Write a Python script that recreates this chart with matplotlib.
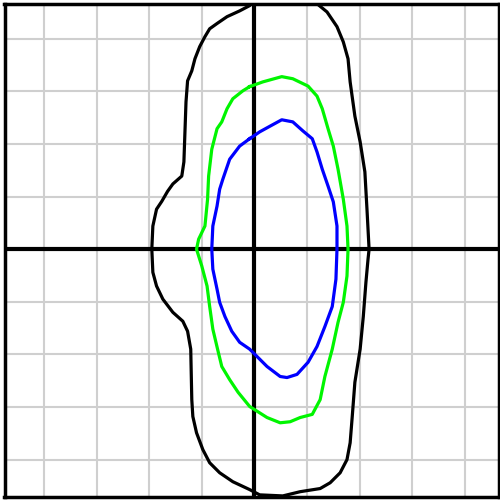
import numpy as np
import matplotlib
matplotlib.use('Agg')
import matplotlib.pyplot as plt

# contour levels (grid units), traced counter-clockwise from the top
outer_x = [-0.05, -0.09, -0.28, -0.52, -0.71, -0.85, -0.94, -1.04, -1.13, -1.19, -1.27,
           -1.30, -1.32, -1.34, -1.38, -1.55, -1.65, -1.76, -1.86, -1.93, -1.95,
           -1.93, -1.86, -1.74, -1.55, -1.36, -1.27, -1.21, -1.19, -1.17, -1.10,
           -0.98, -0.85, -0.66, -0.41, -0.09, 0.10, 0.54, 0.87, 1.25, 1.44, 1.63,
           1.76, 1.82, 1.86, 1.91, 2.01, 2.07, 2.12, 2.16, 2.18, 2.14, 2.10, 2.01,
           1.91, 1.82, 1.78, 1.69, 1.57, 1.38, 1.21, 1.15, -0.05]
outer_y = [4.80, 4.63, 4.53, 4.42, 4.29, 4.19, 4.04, 3.85, 3.62, 3.39, 3.20,
           2.80, 2.23, 1.66, 1.39, 1.24, 1.10, 0.91, 0.76, 0.44, 0.00,
           -0.44, -0.70, -0.95, -1.20, -1.37, -1.56, -1.90, -2.86, -3.18, -3.49,
           -3.81, -4.06, -4.25, -4.42, -4.57, -4.67, -4.69, -4.61, -4.55, -4.44, -4.25,
           -4.00, -3.68, -3.18, -2.53, -1.90, -1.28, -0.63, -0.19, 0.00, 0.76, 1.47, 2.04,
           2.53, 3.18, 3.62, 3.94, 4.23, 4.51, 4.65, 4.80, 4.80]

mid_x = [-0.09, -0.22, -0.41, -0.52, -0.62, -0.71, -0.81, -0.87, -0.89, -0.94, -1.06,
         -1.10, -1.00, -0.90, -0.85, -0.79, -0.70, -0.62, -0.47, -0.31, -0.09, 0.24,
         0.49, 0.68, 0.87, 1.10, 1.25, 1.34, 1.48, 1.59, 1.69, 1.76, 1.78, 1.76,
         1.69, 1.59, 1.50, 1.40, 1.29, 1.19, 1.02, 0.73, 0.52, 0.16, -0.09]
mid_y = [3.09, 3.01, 2.86, 2.67, 2.42, 2.29, 1.90, 1.39, 0.95, 0.44, 0.19,
         0.00, -0.32, -0.70, -1.09, -1.52, -1.90, -2.23, -2.48, -2.72, -2.99, -3.20,
         -3.30, -3.28, -3.20, -3.14, -2.86, -2.42, -1.90, -1.39, -1.01, -0.51, 0.00, 0.44,
         0.95, 1.52, 1.96, 2.29, 2.67, 2.91, 3.10, 3.24, 3.28, 3.18, 3.09]

inner_x = [-0.09, -0.28, -0.47, -0.60, -0.66, -0.71, -0.79, -0.81, -0.79, -0.71, -0.66,
           -0.56, -0.43, -0.28, -0.09, 0.24, 0.49, 0.62, 0.81, 1.02, 1.19, 1.34,
           1.48, 1.55, 1.57, 1.57, 1.50, 1.40, 1.29, 1.19, 1.10, 0.92, 0.73, 0.52,
           0.30, 0.10, -0.09]
inner_y = [2.10, 1.96, 1.71, 1.33, 1.14, 0.82, 0.44, 0.00, -0.38, -0.76, -1.01,
           -1.28, -1.56, -1.77, -1.90, -2.23, -2.42, -2.44, -2.38, -2.15, -1.85, -1.47,
           -1.09, -0.57, 0.00, 0.44, 0.90, 1.20, 1.52, 1.85, 2.10, 2.25, 2.42, 2.46,
           2.34, 2.23, 2.10]

grid_ticks = [-4, -3, -2, -1, 0, 1, 2, 3, 4]

fig = plt.figure(figsize=(5.0, 5.02), dpi=100)
ax = fig.add_axes([0.009, 0.007, 0.988, 0.984])

ax.set_xlim(-4.75, 4.64)
ax.set_ylim(-4.72, 4.67)
ax.set_xticks(grid_ticks)
ax.set_yticks(grid_ticks)
ax.tick_params(length=0, labelbottom=False, labelleft=False)
ax.grid(True, color='#cfcfcf', linewidth=1.5)
ax.set_axisbelow(True)

# coordinate axes through the origin
ax.axhline(0, color='black', linewidth=3)
ax.axvline(0, color='black', linewidth=3)

ax.plot(outer_x, outer_y, color='black', linewidth=2.3)
ax.plot(mid_x, mid_y, color='#00f500', linewidth=2.3)
ax.plot(inner_x, inner_y, color='#0000ff', linewidth=2.3)

for s in ax.spines.values():
    s.set_linewidth(2.5)
    s.set_color('black')

fig.savefig('out.png', dpi=100)
